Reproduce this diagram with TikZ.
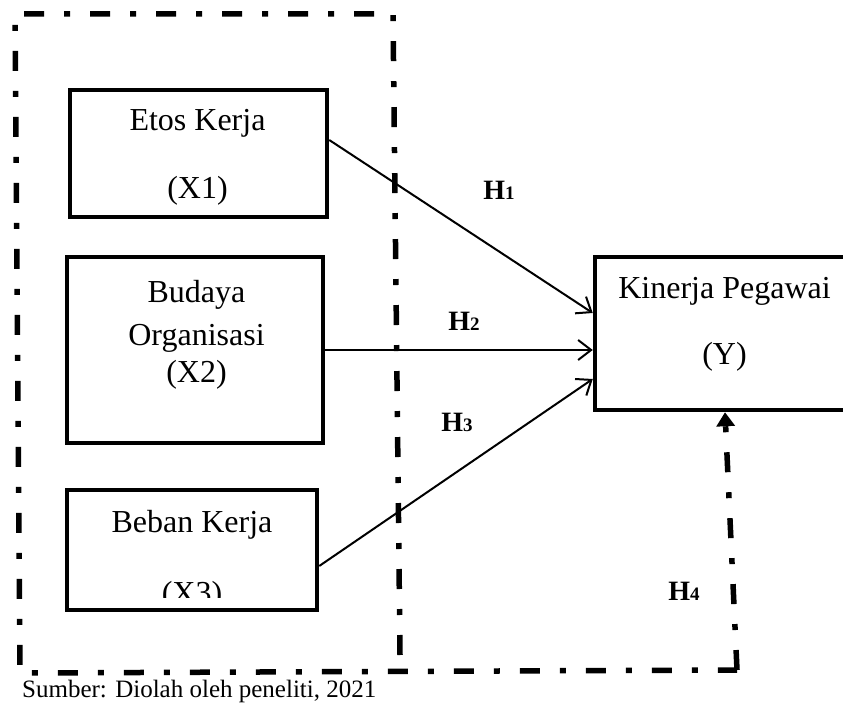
\documentclass[tikz,border=0pt]{standalone}
\usepackage{fontspec}
\setmainfont{Liberation Serif}
\usetikzlibrary{arrows.meta}

\tikzset{
  varbox/.style={draw, line width=4.5pt, inner sep=0pt},
  boxtext/.style={font=\fontsize{32}{36}\selectfont, anchor=base, inner sep=0pt},
  framedash/.style={line width=5.5pt, dash pattern=on 20pt off 20pt on 6pt off 20pt},
  hyparrow/.style={line width=2pt, -{Straight Barb[length=13pt,width=20pt,line width=2pt]}},
  hyplabel/.style={font=\fontsize{28}{30}\selectfont\bfseries, inner sep=0pt}
}
\newcommand{\hyp}[1]{H{\fontsize{19}{20}\selectfont #1}}

\begin{document}
\begin{tikzpicture}[x=1pt,y=-1pt]
        \useasboundingbox (0,0) rectangle (843,708);
        % variabel bebas
        \node[varbox, minimum width=257pt, minimum height=127pt] (etos) at (198.5,153.5) {};
        \node[boxtext] (etos-a) at (197.5,131) {Etos Kerja};
        \node[boxtext] (etos-b) at (197.5,199) {(X1)};
        \node[varbox, minimum width=256pt, minimum height=186pt] (budaya) at (195,350) {};
        \node[boxtext] (budaya-a) at (196.5,303) {Budaya};
        \node[boxtext] (budaya-b) at (196.5,345) {Organisasi};
        \node[boxtext] (budaya-c) at (196.5,382) {(X2)};
        \node[varbox, minimum width=250pt, minimum height=120pt] (beban) at (192,550) {};
        \node[boxtext] (beban-a) at (192,532) {Beban Kerja};
        \begin{scope}
            \clip (67,490) rectangle (317,597);
            \node[boxtext] (beban-b) at (192,603) {(X3)};
        \end{scope}
        % variabel terikat
        \node[varbox, minimum width=290pt, minimum height=153pt] (kinerja) at (740,333.5) {};
        \node[boxtext] (kinerja-a) at (724.5,299) {Kinerja Pegawai};
        \node[boxtext] (kinerja-b) at (724.5,365) {(Y)};
        % bingkai simultan
        \coordinate (fr-end) at (400,655);
        \coordinate (fr-tr) at (393,14);
        \coordinate (fr-tl) at (15,14);
        \coordinate (fr-bl) at (20,673);
        \coordinate (fr-br) at (737,670);
        \draw[framedash] (fr-end) -- (fr-tr) -- (fr-tl) -- (fr-bl) -- (fr-br);
        \draw[framedash, -{Triangle[length=14pt,width=18pt]}] (fr-br) -- ([xshift=-15pt]kinerja.south);
        % hipotesis
        \draw[hyparrow] ([yshift=13.5pt]etos.east) -- ([yshift=20.5pt]kinerja.west);
        \draw[hyparrow] (budaya.east) -- (budaya.east -| kinerja.west);
        \draw[hyparrow] ([yshift=-16pt]beban.east) -- ([yshift=-45.5pt]kinerja.west);
        \node[hyplabel] (h1) at (499,190) {\hyp{1}};
        \node[hyplabel] (h2) at (464,321) {\hyp{2}};
        \node[hyplabel] (h3) at (457,422) {\hyp{3}};
        \node[hyplabel] (h4) at (684,591) {\hyp{4}};
        % sumber
        \node[anchor=base west, inner sep=0pt, font=\fontsize{25}{28}\selectfont] (sumber) at (22,697) {Sumber: Diolah oleh peneliti, 2021};
\end{tikzpicture}
\end{document}
